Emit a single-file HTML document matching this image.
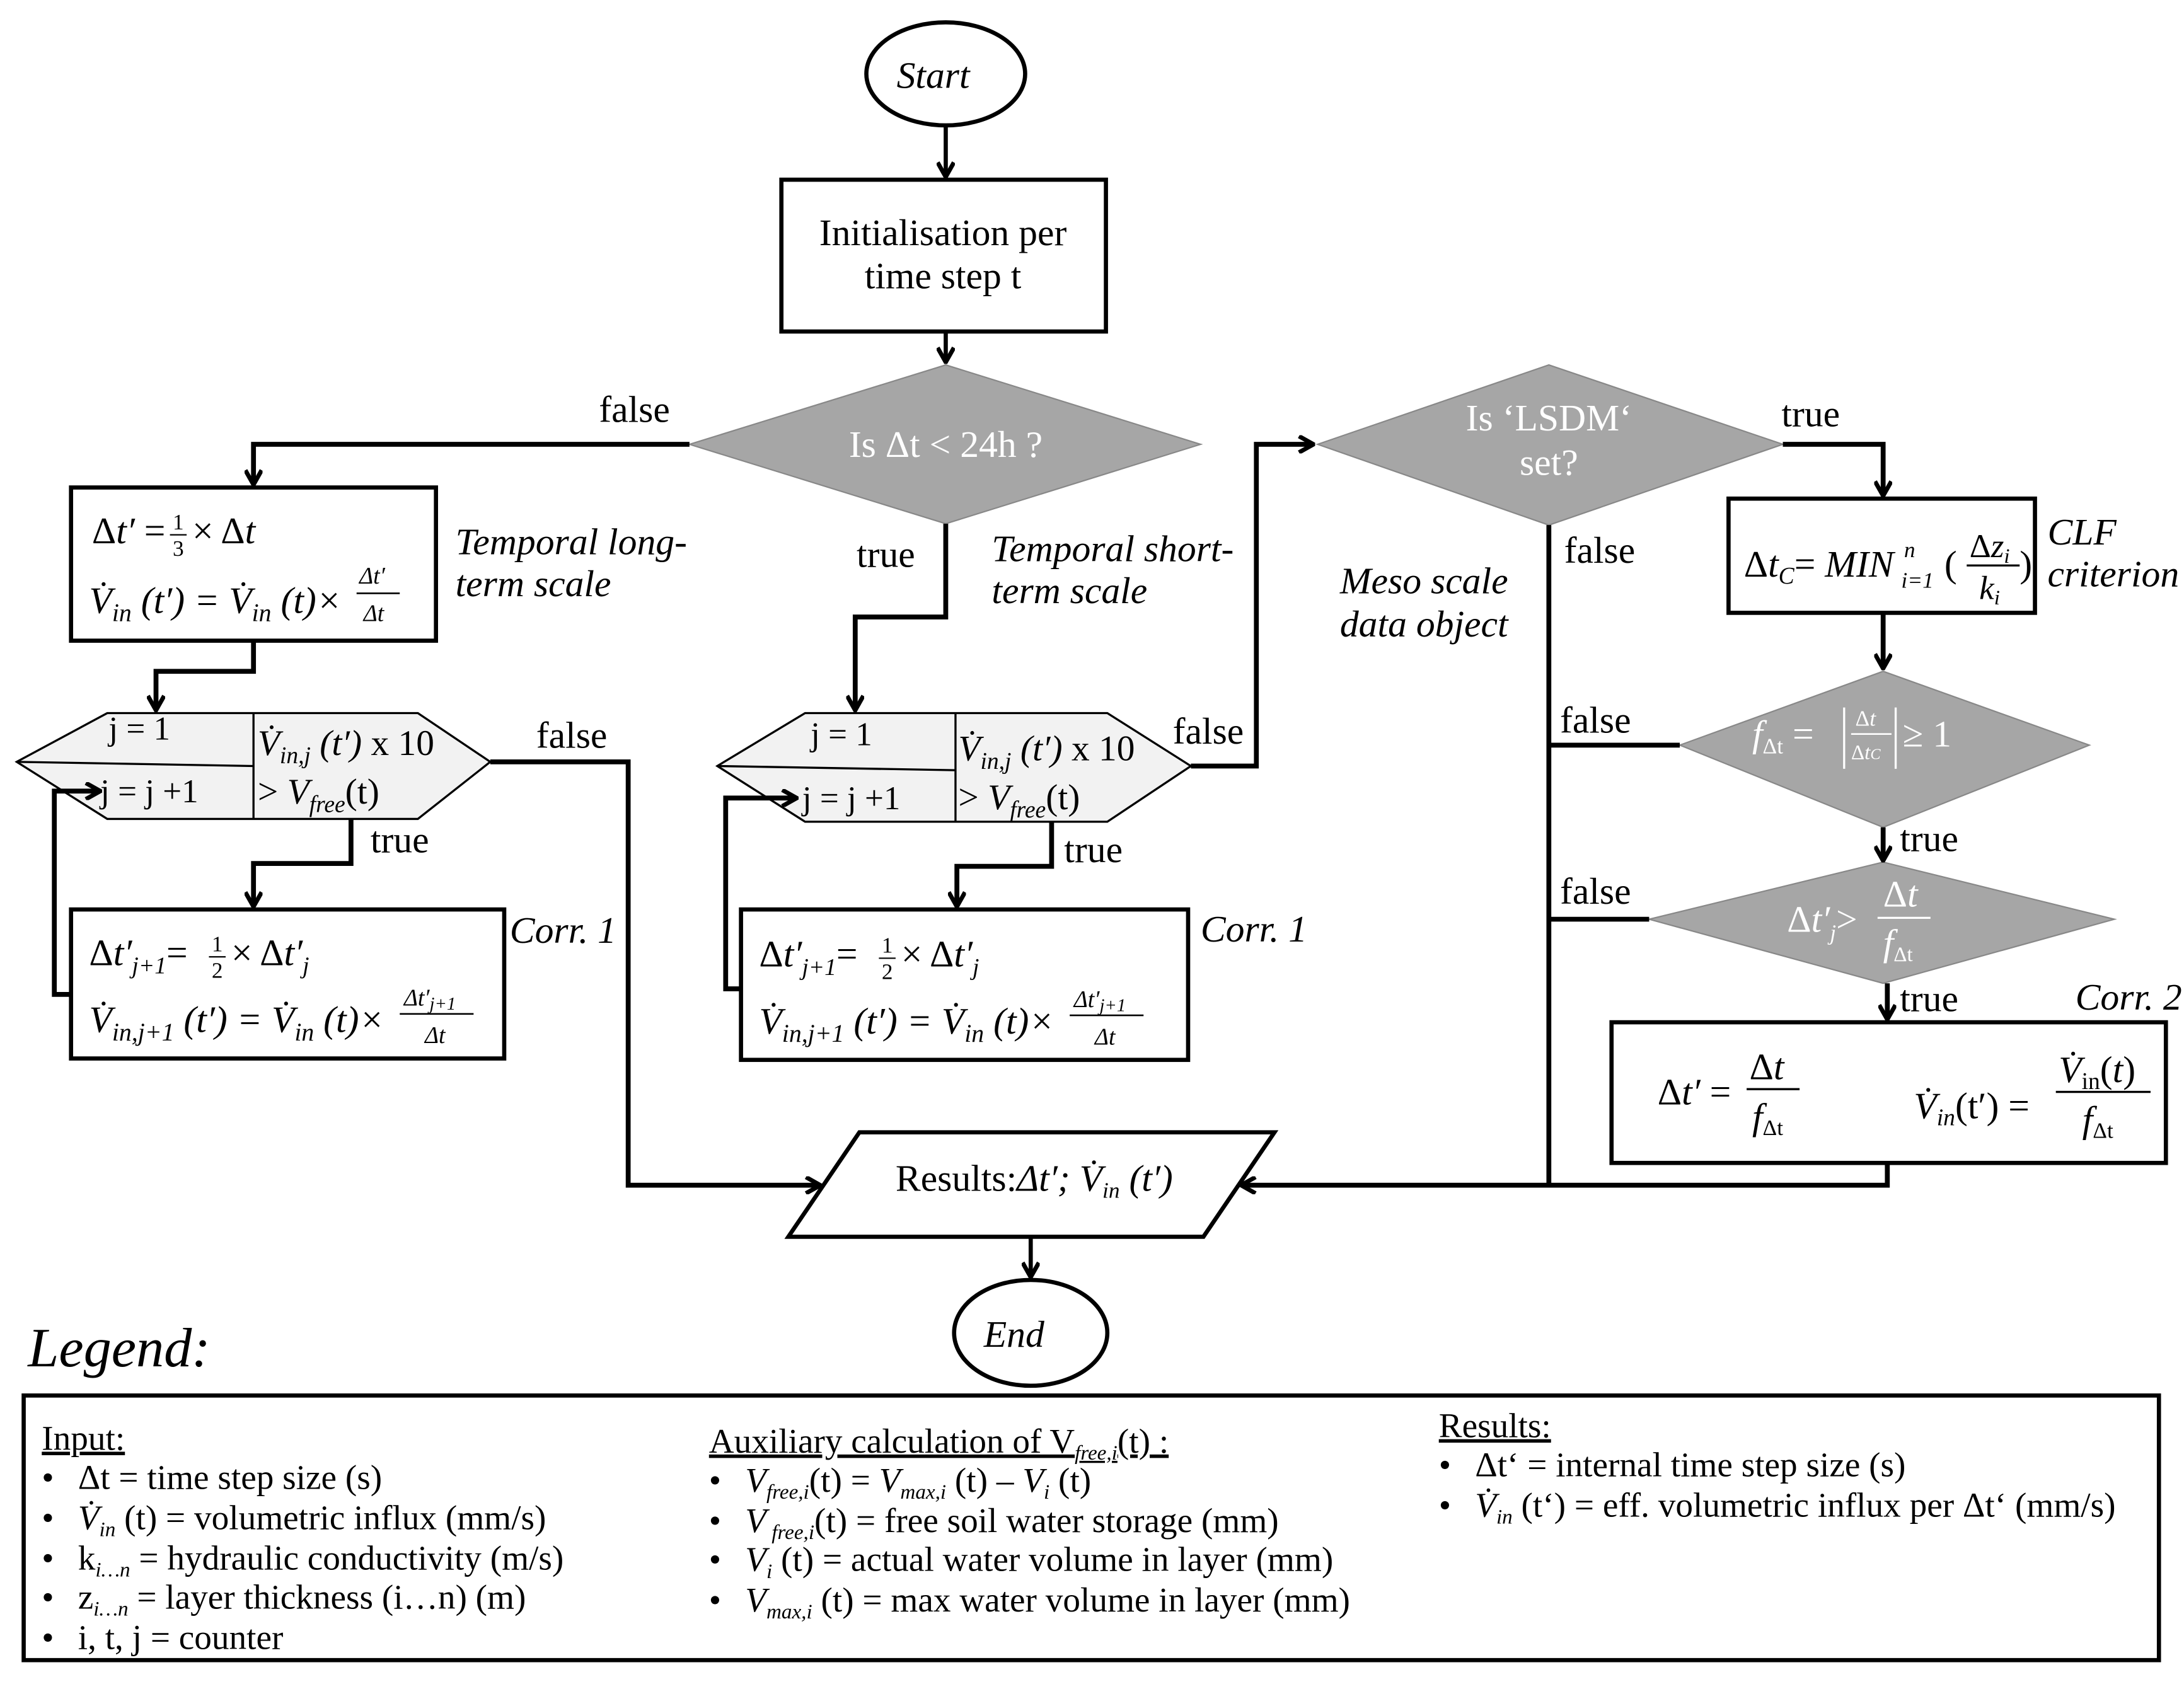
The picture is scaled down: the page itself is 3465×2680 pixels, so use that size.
<!DOCTYPE html>
<html><head><meta charset="utf-8"><style>
html,body{margin:0;padding:0;background:#fff;}
svg{display:block;}
text{font-family:"Liberation Serif",serif;fill:#000;}
.it{font-style:italic;}
.w{fill:#fff;}
.m{font-family:"Liberation Serif",serif;font-style:italic;}
.l{font-size:25px;}
</style></head><body>
<svg width="3465" height="2680" viewBox="0 0 1568 1212.7" xmlns="http://www.w3.org/2000/svg">
<defs>
<marker id="a" viewBox="0 0 10 10" refX="9" refY="5" markerWidth="13" markerHeight="13" orient="auto" markerUnits="userSpaceOnUse">
<path d="M1,0.5 L9,5 L1,9.5" fill="none" stroke="#000" stroke-width="2.4"/>
</marker>
</defs>
<g stroke="#000" stroke-width="3">
<ellipse cx="679" cy="53" rx="57" ry="37" fill="#fff"/>
<rect x="561" y="129" width="233" height="109" fill="#fff"/>
<rect x="51" y="350" width="262" height="110" fill="#fff"/>
<rect x="51" y="653" width="311" height="107" fill="#fff"/>
<rect x="532" y="653" width="321" height="108" fill="#fff"/>
<rect x="1241" y="358" width="220" height="82" fill="#fff"/>
<rect x="1157" y="734" width="398" height="101" fill="#fff"/>
<path d="M566,888 L617,813 L915,813 L864,888 Z" fill="#fff"/>
<ellipse cx="740" cy="957" rx="55" ry="38" fill="#fff"/>
<rect x="17" y="1002" width="1533" height="190" fill="#fff"/>
</g>
<g fill="#a6a6a6" stroke="#888" stroke-width="1">
<path d="M495,319 L679,262 L862,319 L679,376 Z"/>
<path d="M946,319 L1112,262 L1280,319 L1112,377 Z"/>
<path d="M1206,535 L1352,482 L1500,535 L1352,594 Z"/>
<path d="M1184,660 L1352,619 L1518,660 L1352,706 Z"/>
</g>
<g fill="#f2f2f2" stroke="#000" stroke-width="1.5">
<path d="M12,547 L77,512 L300,512 L352,547 L300,588 L77,588 Z"/>
<path d="M515,550 L578,512 L795,512 L855,550 L795,590 L578,590 Z"/>
</g>
<g stroke="#000" stroke-width="1.5">
<path d="M182,512 V588 M12,547 L182,550"/>
<path d="M686,512 V590 M515,550 L686,553"/>
</g>
<g fill="none" stroke="#000" stroke-width="3.5">
<path d="M679,90 V127" marker-end="url(#a)" stroke-width="3"/>
<path d="M679,238 V260" marker-end="url(#a)" stroke-width="3"/>
<path d="M495,319 H182 V348" marker-end="url(#a)"/>
<path d="M679,376 V443 H614 V510" marker-end="url(#a)"/>
<path d="M182,460 V482 H112 V510" marker-end="url(#a)"/>
<path d="M352,547 H451 V851 H589" marker-end="url(#a)"/>
<path d="M252,588 V620 H182 V651" marker-end="url(#a)"/>
<path d="M51,714 H39 V568 H72" marker-end="url(#a)"/>
<path d="M755,590 V622 H687 V651" marker-end="url(#a)"/>
<path d="M532,710 H521 V573 H572" marker-end="url(#a)"/>
<path d="M855,550 H902 V319 H943" marker-end="url(#a)"/>
<path d="M1280,319 H1352 V356" marker-end="url(#a)"/>
<path d="M1112,377 V851 H891" marker-end="url(#a)"/>
<path d="M1352,440 V480" marker-end="url(#a)"/>
<path d="M1206,535 H1112"/>
<path d="M1352,594 V618" marker-end="url(#a)"/>
<path d="M1184,660 H1112"/>
<path d="M1355,706 V732" marker-end="url(#a)"/>
<path d="M1355,835 V851 H1112"/>
<path d="M740,888 V917" marker-end="url(#a)" stroke-width="3"/>
</g>
<g font-size="27">
<text x="670" y="63" text-anchor="middle" class="it">Start</text>
<text x="728" y="967" text-anchor="middle" class="it">End</text>
<text x="677" y="176" text-anchor="middle">Initialisation per</text>
<text x="677" y="207" text-anchor="middle">time step t</text>
<text x="679" y="328" text-anchor="middle" class="w">Is Δt &lt; 24h ?</text>
<text x="1112" y="309" text-anchor="middle" class="w">Is ‘LSDM‘</text>
<text x="1112" y="341" text-anchor="middle" class="w">set?</text>
<text x="430" y="303">false</text>
<text x="615" y="407">true</text>
<text x="385" y="537">false</text>
<text x="266" y="612">true</text>
<text x="842" y="534">false</text>
<text x="764" y="619">true</text>
<text x="1279" y="306">true</text>
<text x="1123" y="404">false</text>
<text x="1120" y="526">false</text>
<text x="1120" y="649">false</text>
<text x="1364" y="611">true</text>
<text x="1364" y="726">true</text>
<g class="it">
<text x="327" y="398">Temporal long-</text>
<text x="327" y="428">term scale</text>
<text x="712" y="403">Temporal short-</text>
<text x="712" y="433">term scale</text>
<text x="962" y="426">Meso scale</text>
<text x="962" y="457">data object</text>
<text x="1470" y="391">CLF</text>
<text x="1470" y="421">criterion</text>
<text x="366" y="677">Corr. 1</text>
<text x="862" y="676">Corr. 1</text>
<text x="1490" y="725">Corr. 2</text>
</g>
<text x="66" y="390">Δ<tspan class="m">t′</tspan> =</text>
<text x="124" y="380" font-size="16">1</text>
<line x1="122" y1="384" x2="134" y2="384" stroke="#000" stroke-width="1"/>
<text x="124" y="399" font-size="16">3</text>
<text x="138" y="390">× Δ<tspan class="m">t</tspan></text>
<text x="64" y="440" class="m">V̇<tspan font-size="18" dy="6">in</tspan><tspan dy="-6"> (t′) = V̇</tspan><tspan font-size="18" dy="6">in</tspan><tspan dy="-6"> (t)× </tspan></text>
<text x="258" y="419" font-size="17" class="m">Δt′</text>
<line x1="256" y1="426" x2="287" y2="426" stroke="#000" stroke-width="1.2"/>
<text x="261" y="446" font-size="17" class="m">Δt</text>
<text x="78" y="531" font-size="24">j = 1</text>
<text x="72" y="576" font-size="24">j = j +1</text>
<text x="185" y="542" font-size="26"><tspan class="m">V̇<tspan font-size="17" dy="6">in,j</tspan><tspan dy="-6"> (t′)</tspan></tspan> x 10</text>
<text x="185" y="577" font-size="26">&gt; <tspan class="m">V<tspan font-size="17" dy="6">free</tspan></tspan><tspan dy="-6">(t)</tspan></text>
<text x="582" y="535" font-size="24">j = 1</text>
<text x="576" y="581" font-size="24">j = j +1</text>
<text x="688" y="546" font-size="26"><tspan class="m">V̇<tspan font-size="17" dy="6">in,j</tspan><tspan dy="-6"> (t′)</tspan></tspan> x 10</text>
<text x="688" y="581" font-size="26">&gt; <tspan class="m">V<tspan font-size="17" dy="6">free</tspan></tspan><tspan dy="-6">(t)</tspan></text>
<g>
<text x="64" y="693">Δ<tspan class="m">t′</tspan><tspan font-size="17" dy="6" class="m">j+1</tspan><tspan dy="-6">=</tspan></text>
<text x="152" y="683" font-size="16">1</text>
<line x1="150" y1="687" x2="162" y2="687" stroke="#000" stroke-width="1"/>
<text x="152" y="702" font-size="16">2</text>
<text x="166" y="693">× Δ<tspan class="m">t′</tspan><tspan font-size="17" dy="6" class="m">j</tspan></text>
<text x="64" y="741" class="m">V̇<tspan font-size="18" dy="6">in,j+1</tspan><tspan dy="-6"> (t′) = V̇</tspan><tspan font-size="18" dy="6">in</tspan><tspan dy="-6"> (t)×</tspan></text>
<text x="290" y="722" font-size="17" class="m">Δt′<tspan font-size="13" dy="3">j+1</tspan></text>
<line x1="287" y1="728" x2="340" y2="728" stroke="#000" stroke-width="1.2"/>
<text x="305" y="749" font-size="17" class="m">Δt</text>
</g>
<g transform="translate(481,1)">
<text x="64" y="693">Δ<tspan class="m">t′</tspan><tspan font-size="17" dy="6" class="m">j+1</tspan><tspan dy="-6">=</tspan></text>
<text x="152" y="683" font-size="16">1</text>
<line x1="150" y1="687" x2="162" y2="687" stroke="#000" stroke-width="1"/>
<text x="152" y="702" font-size="16">2</text>
<text x="166" y="693">× Δ<tspan class="m">t′</tspan><tspan font-size="17" dy="6" class="m">j</tspan></text>
<text x="64" y="741" class="m">V̇<tspan font-size="18" dy="6">in,j+1</tspan><tspan dy="-6"> (t′) = V̇</tspan><tspan font-size="18" dy="6">in</tspan><tspan dy="-6"> (t)×</tspan></text>
<text x="290" y="722" font-size="17" class="m">Δt′<tspan font-size="13" dy="3">j+1</tspan></text>
<line x1="287" y1="728" x2="340" y2="728" stroke="#000" stroke-width="1.2"/>
<text x="305" y="749" font-size="17" class="m">Δt</text>
</g>
<text x="1252" y="414">Δ<tspan class="m">t</tspan><tspan font-size="17" dy="5" class="m">C</tspan><tspan dy="-5">= </tspan><tspan class="m">MIN</tspan></text>
<text x="1365" y="422" font-size="16" class="m">i=1</text>
<text x="1367" y="400" font-size="16" class="m">n</text>
<text x="1396" y="414">(</text>
<text x="1414" y="400" font-size="24">Δ<tspan class="m">z<tspan font-size="15" dy="4">i</tspan></tspan></text>
<line x1="1412" y1="406" x2="1450" y2="406" stroke="#000" stroke-width="1.5"/>
<text x="1421" y="430" font-size="24" class="m">k<tspan font-size="15" dy="4">i</tspan></text>
<text x="1450" y="414">)</text>
<text x="1258" y="536" class="w"><tspan class="m">f</tspan><tspan font-size="16" dy="5">Δt</tspan><tspan dy="-5"> = </tspan></text>
<text x="1332" y="521" font-size="16" class="w">Δ<tspan class="m">t</tspan></text>
<line x1="1329" y1="527" x2="1358" y2="527" stroke="#fff" stroke-width="1.2"/>
<text x="1329" y="545" font-size="15" class="w">Δ<tspan class="m">t<tspan font-size="11">C</tspan></tspan></text>
<path d="M1324,508 V552 M1361,508 V552" stroke="#fff" stroke-width="1.5"/>
<text x="1366" y="536" class="w">≥ 1</text>
<text x="1283" y="669" class="w">Δ<tspan class="m">t′</tspan><tspan font-size="16" dy="6" class="m">j</tspan><tspan dy="-6">&gt;</tspan></text>
<text x="1352" y="651" class="w">Δ<tspan class="m">t</tspan></text>
<line x1="1348" y1="659" x2="1386" y2="659" stroke="#fff" stroke-width="1.5"/>
<text x="1352" y="686" class="w"><tspan class="m">f</tspan><tspan font-size="15" dy="4">Δt</tspan></text>
<text x="1190" y="793">Δ<tspan class="m">t′</tspan> = </text>
<text x="1256" y="775">Δ<tspan class="m">t</tspan></text>
<line x1="1254" y1="782" x2="1292" y2="782" stroke="#000" stroke-width="1.5"/>
<text x="1258" y="811"><tspan class="m">f</tspan><tspan font-size="16" dy="4">Δt</tspan></text>
<text x="1374" y="803" class="m">V̇<tspan font-size="17" dy="5">in</tspan><tspan dy="-5" font-style="normal">(t′) = </tspan></text>
<text x="1478" y="777"><tspan class="m">V̇</tspan><tspan font-size="17" dy="5">in</tspan><tspan dy="-5">(</tspan><tspan class="m">t</tspan>)</text>
<line x1="1476" y1="784" x2="1544" y2="784" stroke="#000" stroke-width="1.5"/>
<text x="1495" y="813"><tspan class="m">f</tspan><tspan font-size="16" dy="4">Δt</tspan></text>
<text x="643" y="855">Results:<tspan class="m">Δt′; V̇</tspan><tspan font-size="16" dy="5" class="m">in</tspan><tspan dy="-5" class="m"> (t′)</tspan></text>
</g>
<text x="20" y="981" font-size="40" class="it">Legend:</text>
<g class="l">
<text x="30" y="1041" text-decoration="underline">Input:</text>
<text x="30" y="1069">•<tspan x="56">Δt = time step size (s)</tspan></text>
<text x="30" y="1098">•<tspan x="56" class="m">V̇</tspan><tspan font-size="15" dy="5" class="m">in</tspan><tspan dy="-5"> (t) = volumetric influx (mm/s)</tspan></text>
<text x="30" y="1127">•<tspan x="56">k</tspan><tspan font-size="15" dy="5" class="m">i…n</tspan><tspan dy="-5"> = hydraulic conductivity (m/s)</tspan></text>
<text x="30" y="1155">•<tspan x="56">z</tspan><tspan font-size="15" dy="5" class="m">i…n</tspan><tspan dy="-5"> = layer thickness (i…n) (m)</tspan></text>
<text x="30" y="1184">•<tspan x="56">i, t, j = counter</tspan></text>
<text x="509" y="1043" text-decoration="underline">Auxiliary calculation of V<tspan font-size="15" dy="5" class="m">free,i</tspan><tspan dy="-5">(t) :</tspan></text>
<text x="509" y="1071">•<tspan x="535" class="m">V</tspan><tspan font-size="15" dy="5" class="m">free,i</tspan><tspan dy="-5">(t) = </tspan><tspan class="m">V</tspan><tspan font-size="15" dy="5" class="m">max,i</tspan><tspan dy="-5">  (t) – </tspan><tspan class="m">V</tspan><tspan font-size="15" dy="5" class="m">i</tspan><tspan dy="-5"> (t)</tspan></text>
<text x="509" y="1100">•<tspan x="535" class="m">V</tspan><tspan font-size="15" dy="5" class="m"> free,i</tspan><tspan dy="-5">(t) = free soil water storage (mm)</tspan></text>
<text x="509" y="1128">•<tspan x="535" class="m">V</tspan><tspan font-size="15" dy="5" class="m">i</tspan><tspan dy="-5"> (t) = actual water volume in layer (mm)</tspan></text>
<text x="509" y="1157">•<tspan x="535" class="m">V</tspan><tspan font-size="15" dy="5" class="m">max,i</tspan><tspan dy="-5"> (t) = max water volume in layer (mm)</tspan></text>
<text x="1033" y="1032" text-decoration="underline">Results:</text>
<text x="1033" y="1060">•<tspan x="1059">Δt‘ = internal time step size (s)</tspan></text>
<text x="1033" y="1089">•<tspan x="1059" class="m">V̇</tspan><tspan font-size="15" dy="5" class="m">in</tspan><tspan dy="-5"> (t‘) = eff. volumetric influx per Δt‘ (mm/s)</tspan></text>
</g>
</svg>
</body></html>
